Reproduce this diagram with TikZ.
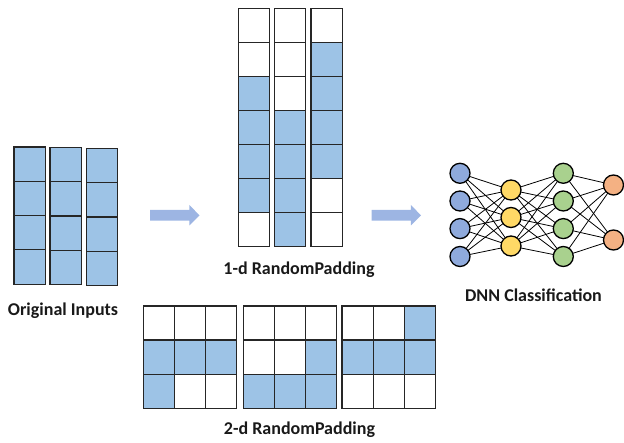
\documentclass[tikz,border=0pt]{standalone}
\usepackage{fontspec}
\setmainfont{Carlito}
\usetikzlibrary{backgrounds}
\definecolor{cellblue}{HTML}{9DC3E6}
\definecolor{arrowblue}{HTML}{9DB5E3}
\definecolor{nblue}{HTML}{8FAADC}
\definecolor{nyellow}{HTML}{FFD966}
\definecolor{ngreen}{HTML}{A9D18E}
\definecolor{norange}{HTML}{F4B183}
\tikzset{
  cellw/.style={draw=black!85, line width=1.2pt, fill=white},
  cellb/.style={draw=black!85, line width=1.2pt, fill=cellblue},
  neuron/.style={circle, draw=black, line width=1.3pt, minimum size=20pt, inner sep=0pt},
  edge/.style={draw=black, line width=0.8pt},
  lbl/.style={font=\bfseries\fontsize{18}{20}\selectfont, text=black!90},
  bigarrow/.style={fill=arrowblue, draw=none}
}
\begin{document}
\begin{tikzpicture}[x=1pt,y=-1pt]
\useasboundingbox (0,0) rectangle (624,443);
% ---------- Original inputs ----------
\foreach \x/\t in {14/147, 50/147.5, 86.5/148.5}{
  \foreach \i in {0,...,3}{
    \draw[cellb] (\x,\t+\i*34.3) rectangle ++(31.3,34.3);
  }
}
\node[lbl] (orig) at (63,311) {Original Inputs};
% ---------- 1-d RandomPadding ----------
\foreach \x/\pat in {238.3/{0,0,1,1,1,1,0}, 274.3/{0,0,0,1,1,1,1}, 311/{0,1,1,1,1,0,0}}{
  \foreach \v [count=\i from 0] in \pat{
    \ifnum\v=1
      \draw[cellb] (\x,8.3+\i*34.03) rectangle ++(31.2,34.03);
    \else
      \draw[cellw] (\x,8.3+\i*34.03) rectangle ++(31.2,34.03);
    \fi
  }
}
\node[lbl] (oned) at (299,270) {1-d RandomPadding};
% ---------- 2-d RandomPadding ----------
\foreach \x/\pat in {143.3/{0,0,0,1,1,1,1,0,0}, 243.3/{0,0,0,0,0,1,1,1,1}, 342/{0,0,1,1,1,1,0,0,0}}{
  \foreach \v [count=\k from 0] in \pat{
    \pgfmathtruncatemacro{\r}{int(\k/3)}
    \pgfmathtruncatemacro{\q}{mod(\k,3)}
    \ifnum\v=1
      \draw[cellb] (\x+\q*31.1,306+\r*34.1) rectangle ++(31.1,34.1);
    \else
      \draw[cellw] (\x+\q*31.1,306+\r*34.1) rectangle ++(31.1,34.1);
    \fi
  }
}
\node[lbl] (twod) at (299.5,430) {2-d RandomPadding};
% ---------- arrows ----------
\fill[bigarrow] (150,210) -- (189.3,210) -- (189.3,205) -- (199.5,215.3) -- (189.3,225.5) -- (189.3,220.6) -- (150,220.6) -- cycle;
\fill[bigarrow] (371.5,210) -- (410.8,210) -- (410.8,205) -- (421,215.3) -- (410.8,225.5) -- (410.8,220.6) -- (371.5,220.6) -- cycle;
% ---------- DNN ----------
\foreach \i/\y in {1/173.3, 2/201, 3/228.6, 4/256.5}{
  \node[neuron, fill=nblue] (a\i) at (460,\y) {};
  \node[neuron, fill=ngreen] (c\i) at (563.3,\y) {};
}
\foreach \i/\y in {1/190, 2/217.5, 3/246}{
  \node[neuron, fill=nyellow] (b\i) at (511,\y) {};
}
\foreach \i/\y in {1/185, 2/240}{
  \node[neuron, fill=norange] (d\i) at (613.5,\y) {};
}
\begin{scope}[on background layer]
\foreach \i in {1,...,4}{
  \foreach \j in {1,...,3}{
    \draw[edge] (a\i.center) -- (b\j.center);
    \draw[edge] (b\j.center) -- (c\i.center);
  }
  \foreach \j in {1,2}{
    \draw[edge] (c\i.center) -- (d\j.center);
  }
}
\end{scope}
\node[lbl] (dnn) at (533.5,295) {DNN Classification};
\end{tikzpicture}
\end{document}
